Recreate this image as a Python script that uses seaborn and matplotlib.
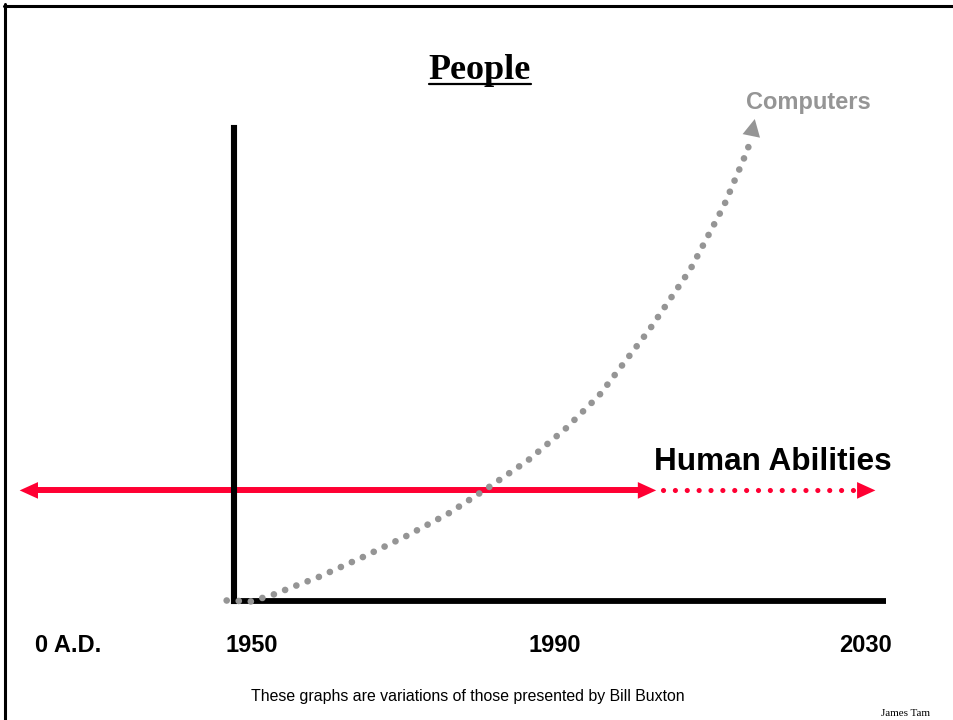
import numpy as np
import pandas as pd
import matplotlib.pyplot as plt
import seaborn as sns
from matplotlib.lines import Line2D

# chart values (years on x, relative ability on y)
axis_years = [1950, 2030]
axis_levels = [0, 100]
tick_labels = ["0 A.D.", "1950", "1990", "2030"]

computer_years = [1949.1, 1952.1, 1954.9, 1957.7, 1960.3, 1965.7, 1971.1, 1976.3,
                  1981.2, 1986.1, 1990.7, 1994.8, 2001.0, 2006.0, 2010.1, 2013.0, 2013.4]
computer_levels = [0.0, -0.2, 1.3, 3.2, 4.9, 9.1, 13.6, 18.4,
                   23.9, 29.7, 36.4, 43.4, 57.4, 70.1, 83.5, 95.3, 97.7]
computer_tip = (2013.9, 101.9)

human_level = 23.3
human_past = [1923.7, 2001.8]      # arrow tips of the solid line
human_future = [2002.6, 2026.6]
human_future_tip = 2028.7
head_years = 2.2                   # arrow head length in years

GRAY = "#959595"
RED = "#ff0033"

sns.set_style("white")
plt.rcParams["font.family"] = ["Liberation Sans", "DejaVu Sans"]
plt.rcParams["text.color"] = "black"

fig = plt.figure(figsize=(9.54, 7.2), dpi=100)
ax = fig.add_axes([0, 0, 1, 1])

# pixel anchors of the slide: 1950 -> 234px, 2030 -> 886px ; 0 -> 600.5px, 100 -> 128px
px_per_year = (886 - 234) / 80
px_per_unit = (600.5 - 128) / 100
x_left = 1950 - 234 / px_per_year
ax.set_xlim(x_left, x_left + 954 / px_per_year)
ax.set_ylim(-(720 - 600.5) / px_per_unit, 600.5 / px_per_unit)
ax.axis("off")

# axes drawn as thick black lines (above the red line, below the gray dots)
sns.lineplot(x=axis_years, y=[axis_levels[0]] * 2, ax=ax, color="black", lw=4.2,
             solid_capstyle="butt", sort=False, estimator=None, zorder=4)
sns.lineplot(x=[axis_years[0]] * 2, y=axis_levels, ax=ax, color="black", lw=4.4,
             solid_capstyle="projecting", sort=False, estimator=None, zorder=4)

head = dict(arrowstyle="-|>,head_length=0.66,head_width=0.3", mutation_scale=20,
            lw=0, color=RED, shrinkA=0, shrinkB=0)

# human abilities: solid past, dotted future
sns.lineplot(x=[human_past[0] + head_years * 0.8, human_past[1] - head_years * 0.8],
             y=[human_level] * 2, ax=ax, color=RED, lw=4.3,
             solid_capstyle="butt", sort=False, estimator=None, zorder=3)
ax.annotate("", xy=(human_past[0], human_level),
            xytext=(human_past[0] + head_years, human_level), arrowprops=head, zorder=3)
ax.annotate("", xy=(human_past[1], human_level),
            xytext=(human_past[1] - head_years, human_level), arrowprops=head, zorder=3)
sns.lineplot(x=human_future, y=[human_level] * 2, ax=ax, color=RED, lw=3.7,
             linestyle=(0, (0.01, 2.3)), dash_capstyle="round", sort=False,
             estimator=None, zorder=3)
ax.annotate("", xy=(human_future_tip, human_level), xytext=(human_future[1], human_level),
            arrowprops=head, zorder=3)

# computers: dotted exponential curve
curve = pd.DataFrame({"year": computer_years, "level": computer_levels})
sns.lineplot(data=curve, x="year", y="level", ax=ax, color=GRAY, lw=4.8,
             linestyle=(0, (0.01, 1.8)), dash_capstyle="round", sort=False,
             estimator=None, zorder=5)
ax.annotate("", xy=computer_tip, xytext=(computer_years[-1], computer_levels[-1]),
            arrowprops=dict(arrowstyle="-|>,head_length=0.62,head_width=0.32",
                            mutation_scale=20, lw=0, color=GRAY,
                            shrinkA=0, shrinkB=0), zorder=5)

# texts (slide layout in pixels)
def fx(px):
    return px / 954

def fy(py):
    return 1 - py / 720

title = fig.text(fx(480), fy(79), "People", ha="center", va="baseline",
                 fontsize=26, fontweight="bold", family=["Liberation Serif"])
fig.text(fx(808), fy(102), "Computers", ha="center", va="center",
         fontsize=17, fontweight="bold", color=GRAY)
fig.text(fx(773), fy(462), "Human Abilities", ha="center", va="center",
         fontsize=22.7, fontweight="bold", color="black")

label_px = [68, 252, 555, 866]
for lab, px in zip(tick_labels, label_px):
    fig.text(fx(px), fy(645), lab, ha="center", va="center",
             fontsize=17, fontweight="bold")

fig.text(fx(468), fy(697), "These graphs are variations of those presented by Bill Buxton",
         ha="center", va="center", fontsize=11.4)
fig.text(fx(906), fy(713), "James Tam", ha="center", va="center",
         fontsize=8, family=["Liberation Serif"])

# underline the title
fig.canvas.draw()
bb = title.get_window_extent().transformed(fig.transFigure.inverted())
fig.add_artist(Line2D([bb.x0, bb.x1], [fy(83.5)] * 2, color="black", lw=1.6))

# slide border (top and left)
fig.add_artist(Line2D([fx(4), 1], [fy(5.5)] * 2, color="black", lw=2.2))
fig.add_artist(Line2D([fx(5.5)] * 2, [fy(4), 0], color="black", lw=2.2))

fig.savefig("out.png", dpi=100)
